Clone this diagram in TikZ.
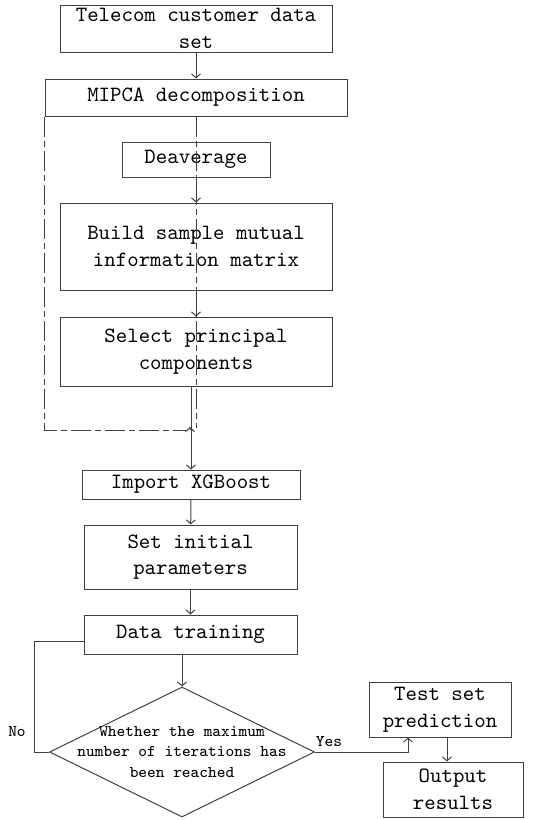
\documentclass[tikz,border=0pt]{standalone}
\usepackage{xcolor}
\usepackage{tikz}
\usetikzlibrary{shapes.geometric,arrows.meta,positioning}

\tikzset{
    procbox/.style={draw=black!75, line width=0.5pt, inner sep=0pt, align=center,
        font=\fontsize{10.9}{13.3}\selectfont\ttfamily},
    decision/.style={draw=black!75, line width=0.5pt, diamond, inner sep=0pt,
        minimum width=132.5pt, minimum height=65pt},
    smalltext/.style={inner sep=0pt, align=center,
        font=\fontsize{8.2}{10.25}\selectfont\ttfamily},
    flowarrow/.style={draw=black!75, line width=0.5pt,
        -{Straight Barb[length=2pt,width=4.5pt]}},
    flowline/.style={draw=black!75, line width=0.5pt},
    frameline/.style={draw=black!75, line width=0.5pt,
        dash pattern=on 10pt off 2pt on 3pt off 2pt}
}

\begin{document}
\begin{tikzpicture}[x=0.5pt, y=-0.5pt]
                \useasboundingbox (0,0) rectangle (534,820);

                % MIPCA part
                \node[procbox, minimum width=136pt, minimum height=23.5pt] (data) at (196,28.5) {Telecom customer data\\set};
                \node[procbox, minimum width=151pt, minimum height=18.5pt] (mipca) at (196,97.5) {MIPCA decomposition};
                \node[procbox, minimum width=74pt, minimum height=17.5pt] (deavg) at (196,159.5) {Deaverage};
                \node[procbox, minimum width=136pt, minimum height=43.5pt] (mim) at (196,246.5) {Build sample mutual\\information matrix};
                \node[procbox, minimum width=136pt, minimum height=34.5pt] (selpc) at (196,351.5) {Select principal\\components};

                % XGBoost part
                \node[procbox, minimum width=109pt, minimum height=14.5pt] (xgb) at (191,484.5) {Import XGBoost};
                \node[procbox, minimum width=106.5pt, minimum height=32pt] (initp) at (190.5,557) {Set initial\\parameters};
                \node[procbox, minimum width=106.5pt, minimum height=19.5pt] (train) at (190.5,634.5) {Data training};
                \node[decision] (dec) at (182,752) {};
                \node[smalltext] (dectext) at (dec.center) {Whether the maximum\\number of iterations has\\been reached};
                \node[procbox, minimum width=71pt, minimum height=27.5pt] (test) at (440,709.5) {Test set\\prediction};
                \node[procbox, minimum width=70pt, minimum height=27.5pt] (outp) at (453,789.5) {Output\\results};

                \node[smalltext] (lblno) at (17,732) {No};
                \node[smalltext] (lblyes) at (329,742) {Yes};

                % connectors
                \draw[flowarrow] (data) -- (mipca);
                \draw[flowarrow] (deavg) -- (mim);
                \draw[flowarrow] (mim) -- (selpc);
                \draw[flowarrow] (selpc.south -| xgb.north) -- (xgb.north);
                \draw[flowarrow] (xgb) -- (initp);
                \draw[flowarrow] (initp) -- (train);
                \draw[flowarrow] (train.south -| dec.north) -- (dec.north);
                \draw[flowline] (dec.west) -- ++(-15,0) |- ([yshift=-3.25pt]train.west);
                \draw[flowarrow] (dec.east) -| ([xshift=-16pt]test.south);
                \draw[flowarrow] ([xshift=3.5pt]test.south) -- ([xshift=3.5pt]test.south |- outp.north);

                % frame round the MIPCA steps
                \draw[frameline] (mipca.south west) |- (187,430);
                \draw[flowarrow] (190,430) -- (190,427);
                \draw[frameline] (mipca.south) -- (mipca.south |- 0,428);
\end{tikzpicture}
\end{document}
